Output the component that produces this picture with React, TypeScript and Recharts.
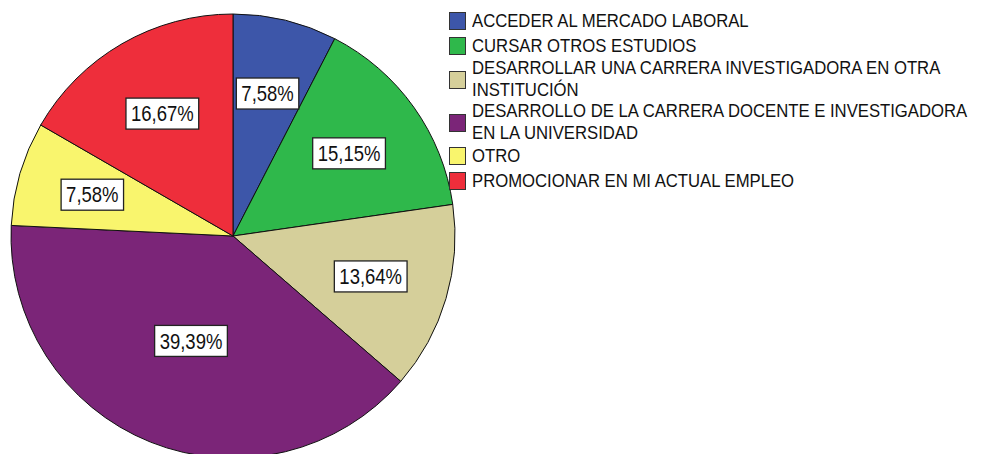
import { PieChart, Pie, Cell, Legend } from 'recharts';

const categories = [
  'ACCEDER AL MERCADO LABORAL',
  'CURSAR OTROS ESTUDIOS',
  'DESARROLLAR UNA CARRERA INVESTIGADORA EN OTRA INSTITUCIÓN',
  'DESARROLLO DE LA CARRERA DOCENTE E INVESTIGADORA EN LA UNIVERSIDAD',
  'OTRO',
  'PROMOCIONAR EN MI ACTUAL EMPLEO',
];
const counts = [5, 10, 9, 26, 5, 11];
const colors = ['#3d56a9', '#2fb84b', '#d5cf9a', '#7b2578', '#f9f56d', '#ee2e3b'];

const data = categories.map((name, i) => ({ name, value: counts[i] }));

const RAD = Math.PI / 180;
const FONT = '"Liberation Sans", Arial, sans-serif';

// rough Arial advance widths for the label characters
const charW = (c: string) => (c === ',' ? 0.278 : c === '%' ? 0.889 : 0.556);

const fmt = (p: number) => (p * 100).toFixed(2).replace('.', ',') + '%';

function SliceLabel(props: any) {
  const { cx, cy, startAngle, endAngle, outerRadius, percent } = props;
  const mid = (startAngle + endAngle) / 2;
  const theta = Math.abs(endAngle - startAngle) * RAD;
  // label sits on the slice centroid
  const r = (4 * outerRadius * Math.sin(theta / 2)) / (3 * theta);
  const x = cx + r * Math.cos(-mid * RAD);
  const y = cy + r * Math.sin(-mid * RAD);
  const text = fmt(percent);
  const fs = 18.5;
  const w = text.split('').reduce((s, c) => s + charW(c), 0) * fs + 10;
  const h = 31;
  return (
    <g>
      <rect x={x - w / 2} y={y - h / 2} width={w} height={h} fill="#fff" stroke="#222" strokeWidth={1.3} />
      <text
        transform={`translate(${x},${y}) scale(1,1.2)`}
        textAnchor="middle"
        dominantBaseline="central"
        fontFamily={FONT}
        fontSize={fs}
        fill="#111"
      >
        {text}
      </text>
    </g>
  );
}

function LegendBox() {
  return (
    <div style={{ fontFamily: FONT, fontSize: 16.7, color: '#111', width: 555 }}>
      {categories.map((c, i) => (
        <div key={c} style={{ display: 'flex', alignItems: 'center', marginBottom: 6 }}>
          <div
            style={{
              width: 15,
              height: 16,
              background: colors[i],
              border: '1px solid #333',
              flexShrink: 0,
              marginRight: 6,
            }}
          />
          <div style={{ lineHeight: '18.5px', width: 500, transform: 'scaleY(1.12)' }}>{c}</div>
        </div>
      ))}
    </div>
  );
}

export default function App() {
  return (
    <div style={{ position: 'absolute', left: 0, top: 0, width: 1003, height: 454, background: '#fff' }}>
      <PieChart width={1003} height={454} margin={{ top: 0, right: 0, bottom: 0, left: 0 }}>
        <Pie
          data={data}
          dataKey="value"
          nameKey="name"
          cx={233}
          cy={236}
          outerRadius={222}
          startAngle={90}
          endAngle={-270}
          stroke="#111"
          strokeWidth={1}
          labelLine={false}
          label={SliceLabel}
          isAnimationActive={false}
        >
          {data.map((d, i) => (
            <Cell key={d.name} fill={colors[i]} />
          ))}
        </Pie>
        <Legend
          layout="vertical"
          align="right"
          verticalAlign="top"
          content={() => <LegendBox />}
          wrapperStyle={{ position: 'absolute', left: 449, top: 12, width: 555 }}
        />
      </PieChart>
    </div>
  );
}
